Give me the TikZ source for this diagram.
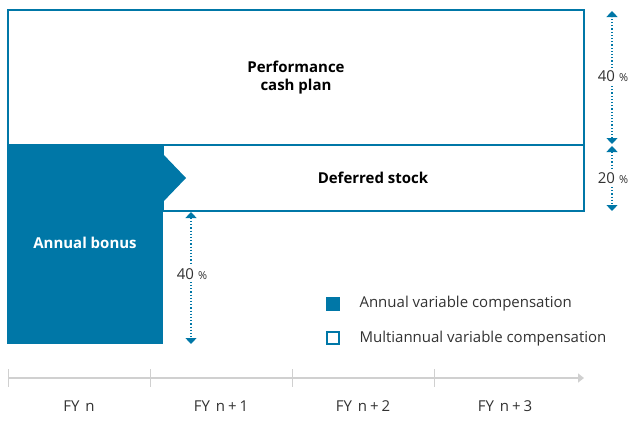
\documentclass[tikz,border=0pt]{standalone}
\usepackage{fontspec}
\setmainfont{Open Sans}
\usetikzlibrary{arrows.meta}
\definecolor{cblue}{RGB}{0,119,167}
\definecolor{cgray}{RGB}{208,208,208}
\definecolor{ctext}{RGB}{50,50,50}
\tikzset{
  box/.style={draw=cblue, line width=1.6pt},
  title/.style={font=\fontsize{15}{18}\selectfont\bfseries, text=black, align=center},
  dim/.style={cblue, line width=1.2pt, dotted, {Triangle[width=11pt,length=6pt]}-{Triangle[width=11pt,length=6pt]}},
  pct/.style={font=\fontsize{15}{17}\selectfont, text=ctext, fill=white, inner sep=2pt},
  leg/.style={font=\fontsize{15}{17}\selectfont, text=ctext, anchor=west},
  fy/.style={font=\fontsize{15}{17}\selectfont, text=ctext},
  tick/.style={cgray, line width=1pt}
}
\newcommand{\pc}{\hspace{4pt}{\fontsize{11}{12}\selectfont\%}}
\newcommand{\pl}{\hspace{3pt}+\hspace{3pt}}
\begin{document}
\begin{tikzpicture}[x=1pt,y=-1pt]
\useasboundingbox (0,0) rectangle (636,442);
% boxes
\draw[box] (8,10) rectangle (584,145);
\draw[box] (163,145) rectangle (584,211);
\fill[cblue] (7,144) rectangle (163,344);
\fill[cblue] (162,153) -- (186,178) -- (162,203) -- cycle;
\node[title] (pcp) at (296,78) {Performance\\cash plan};
\node[title] (ds) at (373,178) {Deferred stock};
\node[title, text=white] (ab) at (85,243) {Annual bonus};
% dimension arrows right
\coordinate (r1) at (612,11);
\coordinate (r2) at (612,144);
\coordinate (r3) at (612,146);
\coordinate (r4) at (612,211);
\draw[dim] (r2) -- (r1);
\draw[dim] (r3) -- (r4);
\node[pct] (p40a) at (613,76) {40\pc};
\node[pct] (p20) at (613,178) {20\pc};
% middle dimension
\coordinate (m1) at (191,212);
\coordinate (m2) at (191,344);
\draw[dim] (m1) -- (m2);
\node[pct] (p40b) at (192,274) {40\pc};
% legend
\fill[cblue] (326,297) rectangle (340,311);
\node[leg] (l1) at (356,304) {Annual variable compensation};
\draw[cblue, line width=1.6pt] (327,332) rectangle (339,344);
\node[leg] (l2) at (356,339) {Multiannual variable compensation};
% timeline
\coordinate (t0) at (8,378);
\coordinate (tend) at (584,378);
\draw[cgray, line width=1.4pt, -{Triangle[width=9pt,length=6pt]}] (t0) -- (tend);
\foreach \x in {8,150,292,434} \draw[tick] (\x,369) -- (\x,387);
\node[fy] (f0) at (79,406) {FY\hspace{2pt} n};
\node[fy] (f1) at (221,406) {FY\hspace{2pt} n\pl1};
\node[fy] (f2) at (363,406) {FY\hspace{2pt} n\pl2};
\node[fy] (f3) at (505,406) {FY\hspace{2pt} n\pl3};
\end{tikzpicture}
\end{document}
